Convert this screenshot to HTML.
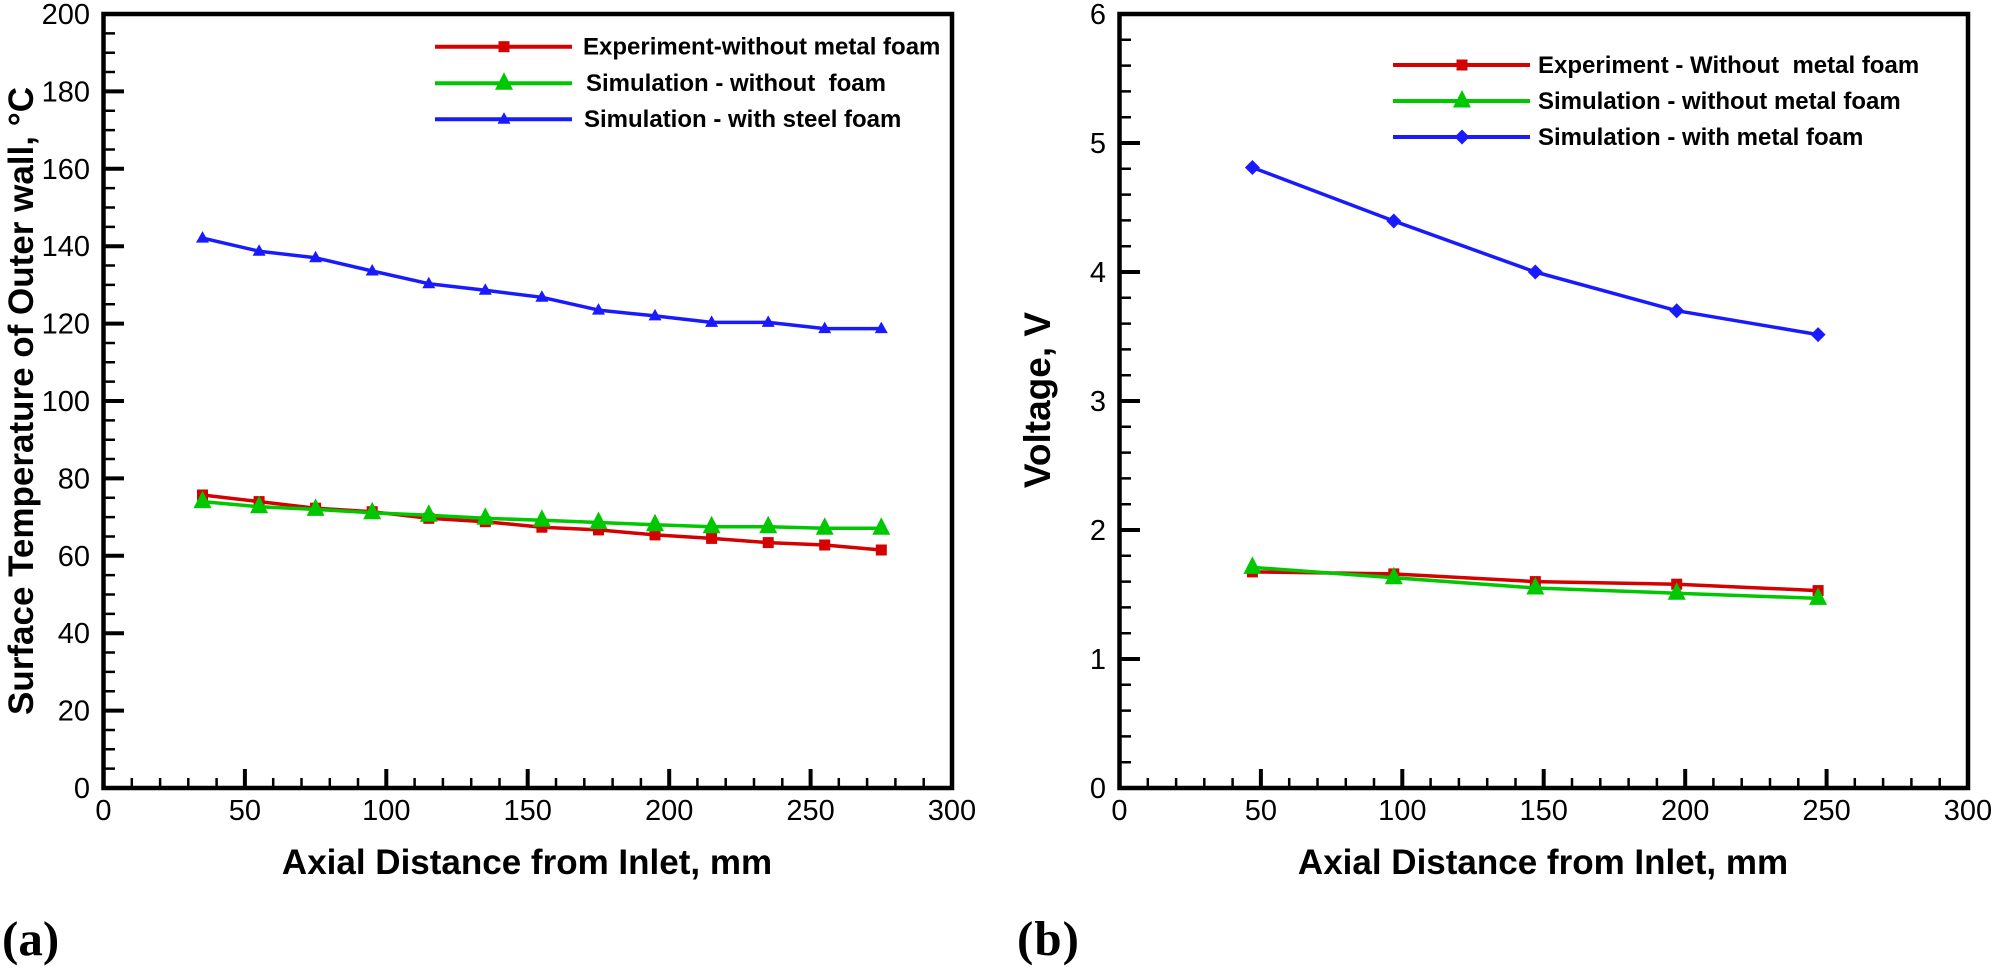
<!DOCTYPE html>
<html><head><meta charset="utf-8"><style>
html,body{margin:0;padding:0;background:#fff;}
svg{display:block;}
text{font-family:"Liberation Sans",Arial,sans-serif;}
.t{font-size:29px;fill:#000;}
.b{font-weight:bold;fill:#000;}
.lg{font-size:24px;font-weight:bold;fill:#000;white-space:pre;}
.s{font-family:"Liberation Serif","DejaVu Serif",serif;font-size:49px;font-weight:bold;fill:#000;}
</style></head><body>
<svg width="1996" height="969" viewBox="0 0 1996 969" xmlns="http://www.w3.org/2000/svg">
<defs>
<rect id="sq" x="-5.5" y="-5.5" width="11" height="11" fill="#d50000"/>
<path id="tg" d="M0,-11 L9,6.5 L-9,6.5 Z" fill="#00c800"/>
<path id="tb" d="M0,-7 L6.5,4.5 L-6.5,4.5 Z" fill="#1a1aff"/>
<path id="dm" d="M0,-7.5 L7.5,0 L0,7.5 L-7.5,0 Z" fill="#1a1aff"/>
<g id="xt">
<path d="M244.9 788V769M386.3 788V769M527.7 788V769M669.2 788V769M810.6 788V769" stroke="#000" stroke-width="4" fill="none"/>
<path d="M131.8 788V778M160.1 788V778M188.3 788V778M216.6 788V778M273.2 788V778M301.5 788V778M329.8 788V778M358 788V778M414.6 788V778M442.9 788V778M471.2 788V778M499.5 788V778M556 788V778M584.3 788V778M612.6 788V778M640.9 788V778M697.4 788V778M725.7 788V778M754 788V778M782.3 788V778M838.8 788V778M867.1 788V778M895.4 788V778M923.7 788V778" stroke="#000" stroke-width="2.5" fill="none"/>
<rect x="103.5" y="14" width="848.5" height="774" fill="none" stroke="#000" stroke-width="4.5"/>
<g class="t" text-anchor="middle">
<text x="103.5" y="820">0</text><text x="244.9" y="820">50</text><text x="386.3" y="820">100</text><text x="527.7" y="820">150</text><text x="669.2" y="820">200</text><text x="810.6" y="820">250</text><text x="952" y="820">300</text>
</g>
<text class="b" x="527" y="874" text-anchor="middle" font-size="35">Axial Distance from Inlet, mm</text>
</g>
</defs>

<!-- ============ LEFT PLOT ============ -->
<use href="#xt"/>
<path d="M103.5 710.6H124M103.5 633.2H124M103.5 555.8H124M103.5 478.4H124M103.5 401H124M103.5 323.6H124M103.5 246.2H124M103.5 168.8H124M103.5 91.4H124" stroke="#000" stroke-width="4" fill="none"/>
<path d="M103.5 768.65H115M103.5 749.3H115M103.5 729.95H115M103.5 691.25H115M103.5 671.9H115M103.5 652.55H115M103.5 613.85H115M103.5 594.5H115M103.5 575.15H115M103.5 536.45H115M103.5 517.1H115M103.5 497.75H115M103.5 459.05H115M103.5 439.7H115M103.5 420.35H115M103.5 381.65H115M103.5 362.3H115M103.5 342.95H115M103.5 304.25H115M103.5 284.9H115M103.5 265.55H115M103.5 226.85H115M103.5 207.5H115M103.5 188.15H115M103.5 149.45H115M103.5 130.1H115M103.5 110.75H115M103.5 72.05H115M103.5 52.7H115M103.5 33.35H115" stroke="#000" stroke-width="2.5" fill="none"/>
<g class="t" text-anchor="end">
<text x="90" y="798">0</text><text x="90" y="720.6">20</text><text x="90" y="643.2">40</text><text x="90" y="565.8">60</text><text x="90" y="488.4">80</text><text x="90" y="411">100</text><text x="90" y="333.6">120</text><text x="90" y="256.2">140</text><text x="90" y="178.8">160</text><text x="90" y="101.4">180</text><text x="90" y="24">200</text>
</g>
<text class="b" font-size="35" text-anchor="middle" transform="translate(33,401) rotate(-90)">Surface Temperature of Outer wall, °C</text>

<!-- series left -->
<polyline fill="none" stroke="#1a1aff" stroke-width="3.5" stroke-linejoin="round" points="202.5,238.1 259.1,251.2 315.6,257.8 372.2,271 428.8,283.7 485.3,290.3 541.9,297.3 598.5,310.1 655,315.9 711.6,322.4 768.2,322.4 824.7,328.6 881.3,328.6"/>
<g>
<use href="#tb" x="202.5" y="238.1"/><use href="#tb" x="259.1" y="251.2"/><use href="#tb" x="315.6" y="257.8"/><use href="#tb" x="372.2" y="271"/><use href="#tb" x="428.8" y="283.7"/><use href="#tb" x="485.3" y="290.3"/><use href="#tb" x="541.9" y="297.3"/><use href="#tb" x="598.5" y="310.1"/><use href="#tb" x="655" y="315.9"/><use href="#tb" x="711.6" y="322.4"/><use href="#tb" x="768.2" y="322.4"/><use href="#tb" x="824.7" y="328.6"/><use href="#tb" x="881.3" y="328.6"/>
</g>
<polyline fill="none" stroke="#d50000" stroke-width="3.5" stroke-linejoin="round" points="202.5,495 259.1,501.6 315.6,508.2 372.2,511.7 428.8,518.3 485.3,521.7 541.9,527.2 598.5,529.9 655,534.9 711.6,538.4 768.2,542.6 824.7,545 881.3,550"/>
<g>
<use href="#sq" x="202.5" y="495"/><use href="#sq" x="259.1" y="501.6"/><use href="#sq" x="315.6" y="508.2"/><use href="#sq" x="372.2" y="511.7"/><use href="#sq" x="428.8" y="518.3"/><use href="#sq" x="485.3" y="521.7"/><use href="#sq" x="541.9" y="527.2"/><use href="#sq" x="598.5" y="529.9"/><use href="#sq" x="655" y="534.9"/><use href="#sq" x="711.6" y="538.4"/><use href="#sq" x="768.2" y="542.6"/><use href="#sq" x="824.7" y="545"/><use href="#sq" x="881.3" y="550"/>
</g>
<polyline fill="none" stroke="#00c800" stroke-width="3.5" stroke-linejoin="round" points="202.5,501.6 259.1,506.7 315.6,509.4 372.2,512.8 428.8,515.2 485.3,518.3 541.9,520.2 598.5,522.5 655,524.8 711.6,526.8 768.2,526.8 824.7,528.3 881.3,528.3"/>
<g>
<use href="#tg" x="202.5" y="501.6"/><use href="#tg" x="259.1" y="506.7"/><use href="#tg" x="315.6" y="509.4"/><use href="#tg" x="372.2" y="512.8"/><use href="#tg" x="428.8" y="515.2"/><use href="#tg" x="485.3" y="518.3"/><use href="#tg" x="541.9" y="520.2"/><use href="#tg" x="598.5" y="522.5"/><use href="#tg" x="655" y="524.8"/><use href="#tg" x="711.6" y="526.8"/><use href="#tg" x="768.2" y="526.8"/><use href="#tg" x="824.7" y="528.3"/><use href="#tg" x="881.3" y="528.3"/>
</g>

<!-- legend left -->
<path d="M435 46.7H572" stroke="#d50000" stroke-width="4"/>
<use href="#sq" x="504" y="46.7"/>
<path d="M435 83.3H572" stroke="#00c800" stroke-width="4"/>
<use href="#tg" x="504" y="83.3"/>
<path d="M435 119.3H572" stroke="#1a1aff" stroke-width="4"/>
<use href="#tb" x="504" y="119.3"/>
<text class="lg" x="583" y="54.5">Experiment-without metal foam</text>
<text class="lg" x="586" y="91">Simulation - without &#160;foam</text>
<text class="lg" x="584" y="127">Simulation - with steel foam</text>

<text class="s" x="2" y="955">(a)</text>

<!-- ============ RIGHT PLOT ============ -->
<use href="#xt" transform="translate(1016,0)"/>
<path d="M1119.5 659H1140M1119.5 530H1140M1119.5 401H1140M1119.5 272H1140M1119.5 143H1140" stroke="#000" stroke-width="4" fill="none"/>
<path d="M1119.5 762.2H1131M1119.5 736.4H1131M1119.5 710.6H1131M1119.5 684.8H1131M1119.5 633.2H1131M1119.5 607.4H1131M1119.5 581.6H1131M1119.5 555.8H1131M1119.5 504.2H1131M1119.5 478.4H1131M1119.5 452.6H1131M1119.5 426.8H1131M1119.5 375.2H1131M1119.5 349.4H1131M1119.5 323.6H1131M1119.5 297.8H1131M1119.5 246.2H1131M1119.5 220.4H1131M1119.5 194.6H1131M1119.5 168.8H1131M1119.5 117.2H1131M1119.5 91.4H1131M1119.5 65.6H1131M1119.5 39.8H1131" stroke="#000" stroke-width="2.5" fill="none"/>
<g class="t" text-anchor="end">
<text x="1106" y="798">0</text><text x="1106" y="669">1</text><text x="1106" y="540">2</text><text x="1106" y="411">3</text><text x="1106" y="282">4</text><text x="1106" y="153">5</text><text x="1106" y="24">6</text>
</g>
<text class="b" font-size="37" text-anchor="middle" transform="translate(1050,400) rotate(-90)">Voltage, V</text>

<!-- series right -->
<polyline fill="none" stroke="#1a1aff" stroke-width="3.5" stroke-linejoin="round" points="1252.4,167.5 1393.8,221 1535.3,272 1676.7,310.7 1818.1,334.6"/>
<use href="#dm" x="1252.4" y="167.5"/><use href="#dm" x="1393.8" y="221"/><use href="#dm" x="1535.3" y="272"/><use href="#dm" x="1676.7" y="310.7"/><use href="#dm" x="1818.1" y="334.6"/>
<polyline fill="none" stroke="#d50000" stroke-width="3.5" stroke-linejoin="round" points="1252.4,571.9 1393.8,573.9 1535.3,581.6 1676.7,584.2 1818.1,590.6"/>
<use href="#sq" x="1252.4" y="571.9"/><use href="#sq" x="1393.8" y="573.9"/><use href="#sq" x="1535.3" y="581.6"/><use href="#sq" x="1676.7" y="584.2"/><use href="#sq" x="1818.1" y="590.6"/>
<polyline fill="none" stroke="#00c800" stroke-width="3.5" stroke-linejoin="round" points="1252.4,567.4 1393.8,577.7 1535.3,588 1676.7,593.2 1818.1,598.4"/>
<use href="#tg" x="1252.4" y="567.4"/><use href="#tg" x="1393.8" y="577.7"/><use href="#tg" x="1535.3" y="588"/><use href="#tg" x="1676.7" y="593.2"/><use href="#tg" x="1818.1" y="598.4"/>

<!-- legend right -->
<path d="M1393 65H1530" stroke="#d50000" stroke-width="4"/>
<use href="#sq" x="1462" y="65"/>
<path d="M1393 101H1530" stroke="#00c800" stroke-width="4"/>
<use href="#tg" x="1462" y="101"/>
<path d="M1393 137H1530" stroke="#1a1aff" stroke-width="4"/>
<use href="#dm" x="1462" y="137"/>
<text class="lg" x="1538" y="73">Experiment - Without &#160;metal foam</text>
<text class="lg" x="1538" y="109">Simulation - without metal foam</text>
<text class="lg" x="1538" y="145">Simulation - with metal foam</text>

<text class="s" x="1017" y="955" letter-spacing="1">(b)</text>
</svg>
</body></html>
